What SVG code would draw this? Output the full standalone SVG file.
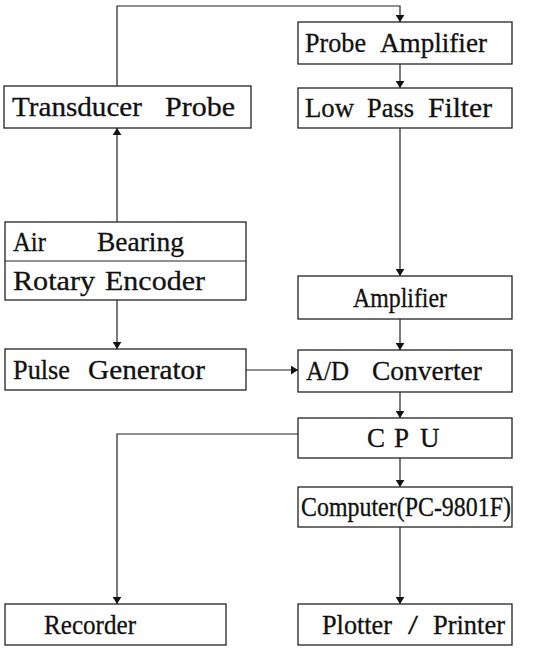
<svg xmlns="http://www.w3.org/2000/svg" width="543" height="648" viewBox="0 0 543 648">
<defs>
<marker id="ah" viewBox="0 0 8 10" refX="8" refY="5" markerWidth="7" markerHeight="9" markerUnits="userSpaceOnUse" orient="auto">
<path d="M0,0 L8,5 L0,10 z" fill="#111"/>
</marker>
<style>
.box{fill:#fff;stroke:#222;stroke-width:1.3}
.ln{fill:none;stroke:#222;stroke-width:1.2}
text{font-family:"Liberation Serif","Times New Roman",serif;font-size:27px;fill:#111;stroke:#111;stroke-width:0.3}
</style>
</defs>
<rect width="543" height="648" fill="#fff"/>
<g id="connectors">
<path class="ln" d="M117,86 V6 H400 V22" marker-end="url(#ah)"/>
<path class="ln" d="M117,222 V128" marker-end="url(#ah)"/>
<path class="ln" d="M117,300 V349" marker-end="url(#ah)"/>
<path class="ln" d="M246,370 H298" marker-end="url(#ah)"/>
<path class="ln" d="M400,64 V88" marker-end="url(#ah)"/>
<path class="ln" d="M400,128 V276" marker-end="url(#ah)"/>
<path class="ln" d="M400,319 V350" marker-end="url(#ah)"/>
<path class="ln" d="M400,392 V418" marker-end="url(#ah)"/>
<path class="ln" d="M400,458 V487" marker-end="url(#ah)"/>
<path class="ln" d="M400,527 V604" marker-end="url(#ah)"/>
<path class="ln" d="M298,434 H117 V604" marker-end="url(#ah)"/>
</g>
<g id="probe-amplifier">
<rect class="box" x="298" y="22" width="214" height="42"/>
<text y="52"><tspan x="305" textLength="61" lengthAdjust="spacingAndGlyphs">Probe</tspan><tspan x="380" textLength="107" lengthAdjust="spacingAndGlyphs">Amplifier</tspan></text>
</g>
<g id="low-pass-filter">
<rect class="box" x="298" y="88" width="214" height="40"/>
<text y="117"><tspan x="305" textLength="49" lengthAdjust="spacingAndGlyphs">Low</tspan><tspan x="367" textLength="47" lengthAdjust="spacingAndGlyphs">Pass</tspan><tspan x="428" textLength="64" lengthAdjust="spacingAndGlyphs">Filter</tspan></text>
</g>
<g id="transducer-probe">
<rect class="box" x="4" y="86" width="247" height="42"/>
<text y="116"><tspan x="12" textLength="130" lengthAdjust="spacingAndGlyphs">Transducer</tspan><tspan x="165" textLength="70" lengthAdjust="spacingAndGlyphs">Probe</tspan></text>
</g>
<g id="air-bearing-rotary-encoder">
<rect class="box" x="5" y="222" width="241" height="78"/>
<line class="ln" x1="5" y1="261" x2="246" y2="261"/>
<text y="251"><tspan x="13" textLength="33" lengthAdjust="spacingAndGlyphs">Air</tspan><tspan x="97" textLength="87" lengthAdjust="spacingAndGlyphs">Bearing</tspan></text>
<text y="290"><tspan x="13" textLength="82" lengthAdjust="spacingAndGlyphs">Rotary</tspan><tspan x="105" textLength="100" lengthAdjust="spacingAndGlyphs">Encoder</tspan></text>
</g>
<g id="amplifier">
<rect class="box" x="298" y="276" width="214" height="43"/>
<text y="307"><tspan x="353" textLength="94" lengthAdjust="spacingAndGlyphs">Amplifier</tspan></text>
</g>
<g id="pulse-generator">
<rect class="box" x="5" y="349" width="241" height="41"/>
<text y="379"><tspan x="13" textLength="57" lengthAdjust="spacingAndGlyphs">Pulse</tspan><tspan x="88" textLength="117" lengthAdjust="spacingAndGlyphs">Generator</tspan></text>
</g>
<g id="ad-converter">
<rect class="box" x="298" y="350" width="214" height="42"/>
<text y="380"><tspan x="306" textLength="43" lengthAdjust="spacingAndGlyphs">A/D</tspan><tspan x="372" textLength="110" lengthAdjust="spacingAndGlyphs">Converter</tspan></text>
</g>
<g id="cpu">
<rect class="box" x="298" y="418" width="214" height="40"/>
<text y="447"><tspan x="367">C</tspan><tspan x="394">P</tspan><tspan x="420">U</tspan></text>
</g>
<g id="computer">
<rect class="box" x="298" y="487" width="214" height="40"/>
<text y="516"><tspan x="301" textLength="210" lengthAdjust="spacingAndGlyphs">Computer(PC-9801F)</tspan></text>
</g>
<g id="recorder">
<rect class="box" x="5" y="604" width="221" height="41"/>
<text y="634"><tspan x="44" textLength="92" lengthAdjust="spacingAndGlyphs">Recorder</tspan></text>
</g>
<g id="plotter-printer">
<rect class="box" x="298" y="604" width="214" height="41"/>
<text y="634"><tspan x="322" textLength="70" lengthAdjust="spacingAndGlyphs">Plotter</tspan><tspan x="408" textLength="10" lengthAdjust="spacingAndGlyphs">/</tspan><tspan x="433" textLength="72" lengthAdjust="spacingAndGlyphs">Printer</tspan></text>
</g>
</svg>
